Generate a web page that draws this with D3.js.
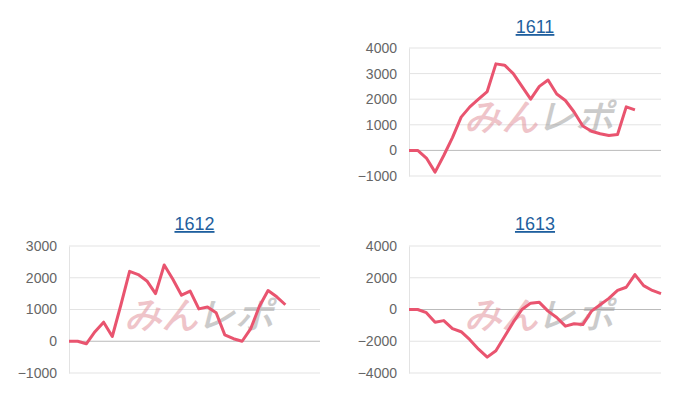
<!DOCTYPE html>
<html><head><meta charset="utf-8">
<script src="https://cdn.jsdelivr.net/npm/d3@7"></script>
<style>body{margin:0;background:#fff}text{font-family:"Liberation Sans",Arial,sans-serif}</style>
</head><body><svg id="c" width="700" height="400"></svg>
<script>
const categories = d3.range(30);
const titles = ["1611","1612","1613"];
const s1611 = [0,0,-300,-850,-200,500,1300,1700,2000,2300,3380,3330,3000,2500,2000,2500,2750,2200,1950,1500,950,750,650,580,620,1700,1580];
const s1612 = [0,0,-80,300,600,150,1150,2200,2100,1900,1500,2400,1950,1450,1580,1020,1080,900,200,80,0,400,1100,1600,1400,1150];
const s1613 = [0,0,-200,-800,-700,-1200,-1400,-1900,-2500,-3000,-2600,-1700,-800,0,400,450,-100,-500,-1050,-900,-950,-100,300,700,1200,1400,2200,1500,1200,1000];
const ticks1611 = [-1000,0,1000,2000,3000,4000];
const ticks1612 = [-1000,0,1000,2000,3000];
const ticks1613 = [-4000,-2000,0,2000,4000];

const svg = d3.select("#c");
const panels = [
 {t:titles[0], d:s1611, ticks:ticks1611, x0:409, x1:661, yT:48, yB:176, ty:33},
 {t:titles[1], d:s1612, ticks:ticks1612, x0:69, x1:320, yT:246, yB:373, ty:230},
 {t:titles[2], d:s1613, ticks:ticks1613, x0:409, x1:661, yT:246, yB:373, ty:230}
];
panels.forEach(p=>{
  const g = svg.append("g");
  const x = d3.scaleLinear().domain([0,categories.length-1]).range([p.x0,p.x1]);
  const y = d3.scaleLinear().domain(d3.extent(p.ticks)).range([p.yB,p.yT]);
  p.ticks.forEach(t=>{
    g.append("line").attr("x1",p.x0).attr("x2",p.x1).attr("y1",y(t)).attr("y2",y(t))
      .attr("stroke",t===0?"#bbb":"#e3e3e3").attr("stroke-width",1);
  });
  const ax = d3.axisLeft(y).tickValues(p.ticks).tickFormat(d3.format("d")).tickSize(0).tickPadding(12);
  const a = g.append("g").attr("transform",`translate(${p.x0},0)`).call(ax);
  a.select(".domain").attr("stroke","#e3e3e3");
  a.selectAll("text").attr("font-size",14).attr("fill","#666").attr("font-family","'Liberation Sans',Arial,sans-serif");
  g.append("text").attr("x",(p.x0+p.x1)/2).attr("y",p.ty).attr("text-anchor","middle")
    .attr("font-size",18).attr("fill","#1f5f9e").attr("text-decoration","underline").text(p.t);
  const cx=(p.x0+p.x1)/2+5, cy=(p.yT+p.yB)/2+16;
  const wm = g.append("text").attr("x",cx).attr("y",cy).attr("text-anchor","middle")
    .attr("font-size",36).attr("font-weight","900").attr("font-style","italic")
    .attr("font-family","'Noto Sans CJK JP'").attr("opacity",0.5);
  wm.append("tspan").attr("fill","#e08a95").text("みん");
  wm.append("tspan").attr("fill","#999").text("レポ");
  g.append("path").datum(p.d).attr("fill","none").attr("stroke","#e9546f").attr("stroke-width",3)
    .attr("stroke-linejoin","round")
    .attr("d",d3.line().x((d,i)=>x(categories[i])).y(d=>y(d)));
});
</script></body></html>
